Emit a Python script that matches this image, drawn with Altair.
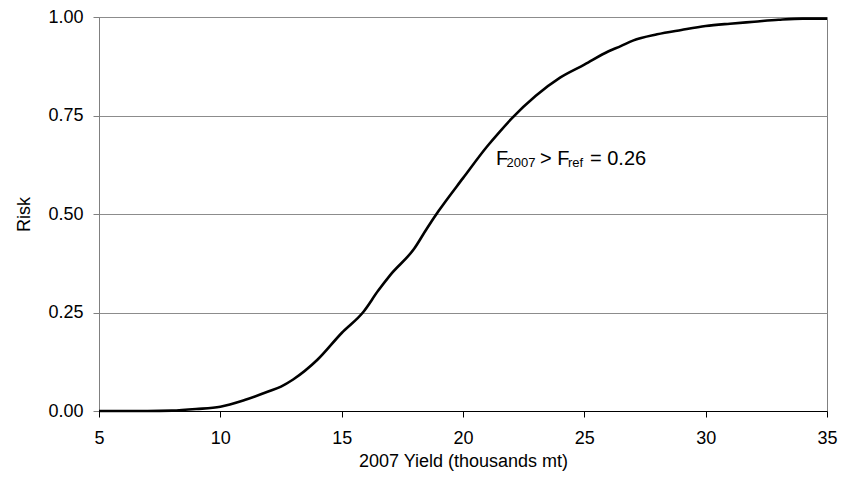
import altair as alt
import pandas as pd

# 2007 yield (thousands mt) and cumulative risk
yield_k = [5, 6, 7, 8, 9, 10, 11, 12, 12.5, 13, 14, 15, 15.9, 16.5, 17, 18, 18.5, 19,
           20, 21, 21.5, 22, 23, 24, 25, 26, 26.5, 27, 28, 29, 30, 31, 32, 33, 34, 35]
risk = [0.0, 0.0, 0.0, 0.001, 0.005, 0.011, 0.028, 0.050, 0.062, 0.080, 0.130, 0.198,
        0.252, 0.305, 0.345, 0.413, 0.462, 0.508, 0.591, 0.672, 0.708, 0.742, 0.800,
        0.846, 0.879, 0.913, 0.926, 0.940, 0.956, 0.967, 0.977, 0.983, 0.988, 0.993,
        0.996, 0.996]

x_ticks = [5, 10, 15, 20, 25, 30, 35]
y_ticks = [0.0, 0.25, 0.5, 0.75, 1.0]

# annotation anchor (data coordinates)
ann_x = [21.36]
ann_y = [0.624]

df = pd.DataFrame({"yield": yield_k, "risk": risk})
ann = pd.DataFrame({"x": ann_x, "y": ann_y})

FONT = "Liberation Sans"

x_enc = alt.X("yield:Q", scale=alt.Scale(domain=[5, 35], nice=False, zero=False),
              axis=alt.Axis(title="2007 Yield (thousands mt)", values=x_ticks, grid=False,
                            domainColor="black", tickColor="black", tickSize=6,
                            labelFontSize=18, titleFontSize=18, labelColor="black",
                            titleColor="black", labelFont=FONT, titleFont=FONT,
                            titleFontWeight="normal", labelPadding=12, titlePadding=5,
                            labelFlush=False))
y_enc = alt.Y("risk:Q", scale=alt.Scale(domain=[0, 1], nice=False),
              axis=alt.Axis(title="Risk", values=y_ticks, format=".2f", grid=True,
                            gridColor="#8c8c8c", gridWidth=1,
                            domainColor="#808080", tickColor="#808080", tickSize=6,
                            labelFontSize=18, titleFontSize=18, labelColor="black",
                            titleColor="black", labelFont=FONT, titleFont=FONT,
                            titleFontWeight="normal", labelPadding=10, titlePadding=14))

line = alt.Chart(df).mark_line(color="black", strokeWidth=2.6, interpolate="monotone").encode(
    x=x_enc, y=y_enc)

def piece(text, dx, size, dy=0):
    return alt.Chart(ann).mark_text(text=text, align="left", baseline="alphabetic",
                                    dx=dx, dy=dy, fontSize=size, font=FONT,
                                    color="black").encode(x="x:Q", y="y:Q")

layers = [line,
          piece("F", 0, 20),
          piece("2007", 10.5, 13, 2),
          piece("> F", 44, 20),
          piece("ref", 72, 13, 2),
          piece("= 0.26", 94, 20)]

chart = alt.layer(*layers).properties(
    width=728, height=394,
    autosize=alt.AutoSizeParams(type="none"),
    padding={"left": 91, "top": 9, "right": 12, "bottom": 61},
    background="white",
).configure_view(stroke="#808080", strokeWidth=1)

chart.save("out.html", embed_options={"renderer": "svg", "actions": False})
